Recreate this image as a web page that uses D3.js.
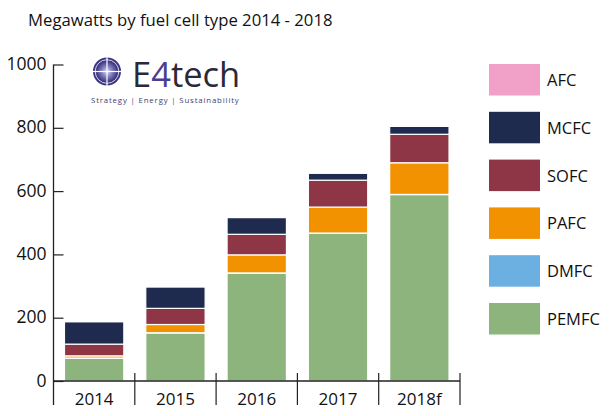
<!DOCTYPE html>
<html><head><meta charset="utf-8">
<script src="https://cdn.jsdelivr.net/npm/d3@7"></script>
<style>
body{margin:0;background:#fff;}
svg{display:block;font-family:"Open Sans",sans-serif;}
</style></head>
<body>
<svg id="c" width="615" height="416"></svg>
<script>
const years = ["2014","2015","2016","2017","2018f"];
const PEMFC = [72, 152, 341, 467, 589];
const DMFC  = [0.5, 0.5, 0.5, 0.5, 0.5];
const PAFC  = [7, 26, 57, 82, 100];
const SOFC  = [37, 51, 65, 85, 90];
const MCFC  = [71, 68, 53, 22, 25];
const AFC   = [0.5, 1.5, 1.5, 1, 2];
const seriesNames = ["PEMFC","DMFC","PAFC","SOFC","MCFC","AFC"];
const seriesVals = [PEMFC, DMFC, PAFC, SOFC, MCFC, AFC];
const colors = {AFC:"#f1a1c8", MCFC:"#1f2a4f", SOFC:"#8e3546", PAFC:"#f39200", DMFC:"#6cb0e2", PEMFC:"#8cb47c"};
const yTicks = [0,200,400,600,800,1000];
const legendOrder = ["AFC","MCFC","SOFC","PAFC","DMFC","PEMFC"];

const svg = d3.select("#c");
const x0 = 53.5, x1 = 460, yBase = 381, yTop = 64.5;

const x = d3.scaleBand().domain(years).range([x0, x1]).paddingInner(0.27).paddingOuter(0.135);
const xb = d3.scaleBand().domain(years).range([x0, x1]);
const y = d3.scaleLinear().domain([0, 1000]).range([yBase, yTop]);

// title
svg.append("text").attr("x", 28).attr("y", 26).attr("font-size", 16.7).attr("fill", "#111")
  .text("Megawatts by fuel cell type 2014 - 2018");

// data
const table = years.map((yr, i) => {
  const o = {year: yr};
  seriesNames.forEach((s, j) => o[s] = seriesVals[j][i]);
  return o;
});
const stack = d3.stack().keys(seriesNames)(table);

svg.append("g").selectAll("g").data(stack).join("g")
  .attr("fill", d => colors[d.key])
  .selectAll("rect").data(d => d).join("rect")
  .attr("x", d => x(d.data.year))
  .attr("width", x.bandwidth())
  .attr("y", d => y(d[1]))
  .attr("height", d => Math.max(0, y(d[0]) - y(d[1])))
  .attr("stroke", "#fff").attr("stroke-width", 1.2);

// y axis
const yAxis = d3.axisRight(y).tickValues(yTicks).tickSize(10).tickFormat("");
const ga = svg.append("g").attr("transform", `translate(${x0},0)`).call(yAxis);
ga.select(".domain").remove();
ga.selectAll("line").attr("stroke", "#222").attr("stroke-width", 1.2);
svg.append("line").attr("x1", x0).attr("x2", x0).attr("y1", yTop).attr("y2", 405)
  .attr("stroke", "#222").attr("stroke-width", 1.3);
svg.append("g").selectAll("text").data(yTicks).join("text")
  .attr("x", 46.5).attr("y", d => y(d) + 5.5)
  .attr("text-anchor", "end").attr("font-size", 17.5).attr("fill", "#111")
  .text(d => d);

// x axis
svg.append("line").attr("x1", x0).attr("x2", x1).attr("y1", yBase).attr("y2", yBase)
  .attr("stroke", "#222").attr("stroke-width", 1.3);
svg.append("g").selectAll("line").data(years).join("line")
  .attr("x1", d => xb(d) + xb.bandwidth()).attr("x2", d => xb(d) + xb.bandwidth())
  .attr("y1", 373).attr("y2", 405).attr("stroke", "#222").attr("stroke-width", 1.2);
svg.append("g").selectAll("text").data(years).join("text")
  .attr("x", d => xb(d) + xb.bandwidth() / 2).attr("y", 405)
  .attr("text-anchor", "middle").attr("font-size", 17).attr("fill", "#111")
  .text(d => d);

// legend
const lg = svg.append("g").selectAll("g").data(legendOrder).join("g")
  .attr("transform", (d, i) => `translate(489,${64 + i * 47.8})`);
lg.append("rect").attr("width", 51).attr("height", 31.5).attr("fill", d => colors[d]);
lg.append("text").attr("x", 58).attr("y", 22).attr("font-size", 16.5).attr("fill", "#111").text(d => d);

// logo
const defs = svg.append("defs");
const rg = defs.append("radialGradient").attr("id", "glb").attr("cx", "50%").attr("cy", "50%").attr("r", "50%");
rg.append("stop").attr("offset", "0%").attr("stop-color", "#dcdcf2");
rg.append("stop").attr("offset", "45%").attr("stop-color", "#8a84c4");
rg.append("stop").attr("offset", "100%").attr("stop-color", "#34307a");
const logo = svg.append("g");
logo.append("circle").attr("cx", 107).attr("cy", 71.5).attr("r", 14).attr("fill", "#3a3580");
logo.append("circle").attr("cx", 107).attr("cy", 71.5).attr("r", 11).attr("fill", "url(#glb)");
logo.append("line").attr("x1", 92.5).attr("x2", 121.5).attr("y1", 71.5).attr("y2", 71.5).attr("stroke", "#fff").attr("stroke-width", 1.2);
logo.append("line").attr("x1", 107).attr("x2", 107).attr("y1", 57).attr("y2", 86).attr("stroke", "#fff").attr("stroke-width", 1.2);
logo.append("circle").attr("cx", 107).attr("cy", 71.5).attr("r", 11.8).attr("fill", "none").attr("stroke", "#fff").attr("stroke-width", 0.8);
const lt = logo.append("text").attr("x", 132).attr("y", 86.5).attr("font-size", 34.5).attr("fill", "#2b2838");
lt.append("tspan").text("E");
lt.append("tspan").attr("fill", "#4b3d93").text("4");
lt.append("tspan").text("tech");
logo.append("text").attr("x", 91).attr("y", 103).attr("font-size", 7.8).attr("fill", "#3f3d6e")
  .attr("letter-spacing", 0.85).text("Strategy | Energy | Sustainability");
</script>
</body></html>
